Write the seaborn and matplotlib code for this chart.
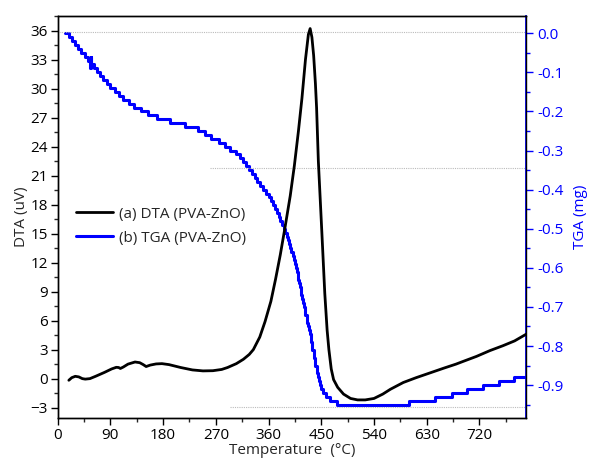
import numpy as np
import pandas as pd
import matplotlib
matplotlib.use("Agg")
import matplotlib.pyplot as plt
from matplotlib.ticker import MultipleLocator, FixedLocator
import seaborn as sns

# ---------------- data ----------------
dta_temp = [19, 24, 30, 36, 42, 47, 55, 65, 80, 92, 100, 104, 107, 112, 120, 132, 140,
            146, 151, 158, 168, 178, 190, 210, 230, 248, 265, 280, 290, 305, 317, 327,
            334, 345, 354, 364, 372, 380, 388, 397, 404, 411, 417, 423, 428, 431, 434,
            437, 440, 442, 445, 451, 456, 460, 463, 467, 471, 478, 488, 500, 512, 525,
            540, 555, 568, 590, 612, 636, 660, 680, 693, 715, 738, 760, 780, 800]
dta_uv = [-0.17, 0.1, 0.24, 0.18, 0.0, -0.05, 0.0, 0.25, 0.65, 1.0, 1.17, 1.15, 1.05,
          1.2, 1.5, 1.72, 1.65, 1.45, 1.25, 1.4, 1.52, 1.55, 1.45, 1.15, 0.9, 0.8, 0.82,
          0.95, 1.15, 1.55, 2.0, 2.5, 3.0, 4.3, 5.9, 8.0, 10.3, 12.8, 15.6, 18.9, 22.0,
          25.6, 29.0, 33.0, 35.6, 36.2, 35.3, 33.4, 30.5, 28.0, 22.5, 15.1, 8.8, 5.0,
          3.0, 1.0, -0.1, -0.9, -1.6, -2.05, -2.2, -2.2, -2.05, -1.6, -1.1, -0.4, 0.1,
          0.6, 1.1, 1.5, 1.8, 2.3, 2.9, 3.4, 3.9, 4.6]

tga_temp = [12, 20, 25, 30, 35, 40, 46, 51, 55, 56, 57, 62, 67, 72, 78, 84, 90, 97, 104,
            112, 121, 131, 142, 154, 170, 192, 218, 240, 251, 262, 275, 286, 295, 304,
            311, 316, 321, 326, 331, 336, 341, 346, 351, 356, 360, 364, 367, 371, 374,
            377, 380, 383, 386, 388, 391, 393, 395, 397, 399, 401, 403, 405, 407, 408,
            410, 411, 412, 413, 415, 416, 417, 419, 420, 422, 423, 425, 426, 428, 429,
            431, 432, 433, 434, 435, 437, 438, 439, 440, 442, 443, 445, 446, 448, 450,
            453, 458, 465, 476, 600, 644, 673, 699, 726, 754, 779, 800]
tga_mg = [0.00, -0.01, -0.02, -0.03, -0.04, -0.05, -0.06, -0.07, -0.09, -0.06, -0.08,
          -0.09, -0.10, -0.11, -0.12, -0.13, -0.14, -0.15, -0.16, -0.17, -0.18, -0.19,
          -0.20, -0.21, -0.22, -0.23, -0.24, -0.25, -0.26, -0.27, -0.28, -0.29, -0.30,
          -0.31, -0.32, -0.33, -0.34, -0.35, -0.36, -0.37, -0.38, -0.39, -0.40, -0.41,
          -0.42, -0.43, -0.44, -0.45, -0.46, -0.47, -0.48, -0.49, -0.50, -0.51, -0.52,
          -0.53, -0.54, -0.55, -0.56, -0.57, -0.58, -0.59, -0.60, -0.61, -0.62, -0.63,
          -0.64, -0.65, -0.66, -0.67, -0.68, -0.69, -0.70, -0.71, -0.72, -0.73, -0.74,
          -0.75, -0.76, -0.77, -0.78, -0.79, -0.80, -0.81, -0.82, -0.83, -0.84, -0.85,
          -0.86, -0.87, -0.88, -0.89, -0.90, -0.91, -0.92, -0.93, -0.94, -0.95, -0.94,
          -0.93, -0.92, -0.91, -0.90, -0.89, -0.88, -0.88]

# dotted reference lines (DTA units, start temperature)
ref_levels = [35.85, 21.8, -2.93]
ref_starts = [2, 260, 294]

x_ticks = [0, 90, 180, 270, 360, 450, 540, 630, 720]
dta_ticks = [-3, 0, 3, 6, 9, 12, 15, 18, 21, 24, 27, 30, 33, 36]
tga_ticks = [0.0, -0.1, -0.2, -0.3, -0.4, -0.5, -0.6, -0.7, -0.8, -0.9]

# ---------------- style ----------------
sns.set_style("ticks")
plt.rcParams['font.family'] = ['Open Sans', 'DejaVu Sans']
plt.rcParams['font.size'] = 11

BLUE = "#0000FF"
fig = plt.figure(figsize=(5.9, 4.61), dpi=100)
ax = fig.add_axes([0.0978, 0.0933, 0.7942, 0.872])
ax2 = ax.twinx()

dta_df = pd.DataFrame({"T": dta_temp, "DTA": dta_uv})
tga_df = pd.DataFrame({"T": tga_temp, "TGA": tga_mg})

ax.hlines(ref_levels, ref_starts, 800, colors="#bbbbbb", linestyles=(0, (1, 1)),
          linewidth=0.8, zorder=1)

sns.lineplot(data=dta_df, x="T", y="DTA", ax=ax, color="black", linewidth=2.0,
             estimator=None, sort=False, label="(a) DTA (PVA-ZnO)", legend=False)
sns.lineplot(data=tga_df, x="T", y="TGA", ax=ax2, color=BLUE, linewidth=2.2,
             estimator=None, sort=False, drawstyle="steps-post",
             label="(b) TGA (PVA-ZnO)", legend=False)

ax.set_xlim(0, 800)
ax.set_ylim(-4.07, 37.5)
ax2.set_ylim(-0.984, 0.044)

ax.xaxis.set_major_locator(FixedLocator(x_ticks))
ax.xaxis.set_minor_locator(MultipleLocator(45))
ax.yaxis.set_major_locator(FixedLocator(dta_ticks))
ax.yaxis.set_minor_locator(MultipleLocator(1.5))
ax2.yaxis.set_major_locator(FixedLocator(tga_ticks))
ax2.yaxis.set_minor_locator(MultipleLocator(0.05))
ax2.set_yticklabels([f"{v:.1f}" for v in tga_ticks])

for a in (ax, ax2):
    for s in a.spines.values():
        s.set_linewidth(1.0)
        s.set_color("black")
ax2.spines["right"].set_color(BLUE)
ax2.spines["right"].set_linewidth(1.3)

ax.tick_params(axis="both", which="major", direction="out", length=5, width=1,
               labelsize=11, colors="black", pad=2)
ax.tick_params(axis="both", which="minor", direction="out", length=3, width=1)
ax.tick_params(axis="x", which="both", top=False)
ax2.tick_params(axis="y", which="major", direction="out", length=5, width=1,
                colors=BLUE, labelsize=11, pad=3)
ax2.tick_params(axis="y", which="minor", direction="out", length=3, width=1,
                colors=BLUE)

ax.set_xlabel("Temperature  (°C)", fontsize=11, labelpad=0)
ax.set_ylabel("DTA (uV)", fontsize=11, labelpad=1)
ax2.set_ylabel("TGA (mg)", fontsize=11, color=BLUE, labelpad=7)

h1, l1 = ax.get_legend_handles_labels()
h2, l2 = ax2.get_legend_handles_labels()
leg = ax.legend(h1 + h2, l1 + l2, loc="upper left", bbox_to_anchor=(0.01, 0.56),
                frameon=False, fontsize=11, handlelength=2.4, handletextpad=0.4,
                labelspacing=0.6)
ax.set_zorder(ax2.get_zorder() + 1)
ax.patch.set_visible(False)

fig.savefig("out.png", dpi=100)
